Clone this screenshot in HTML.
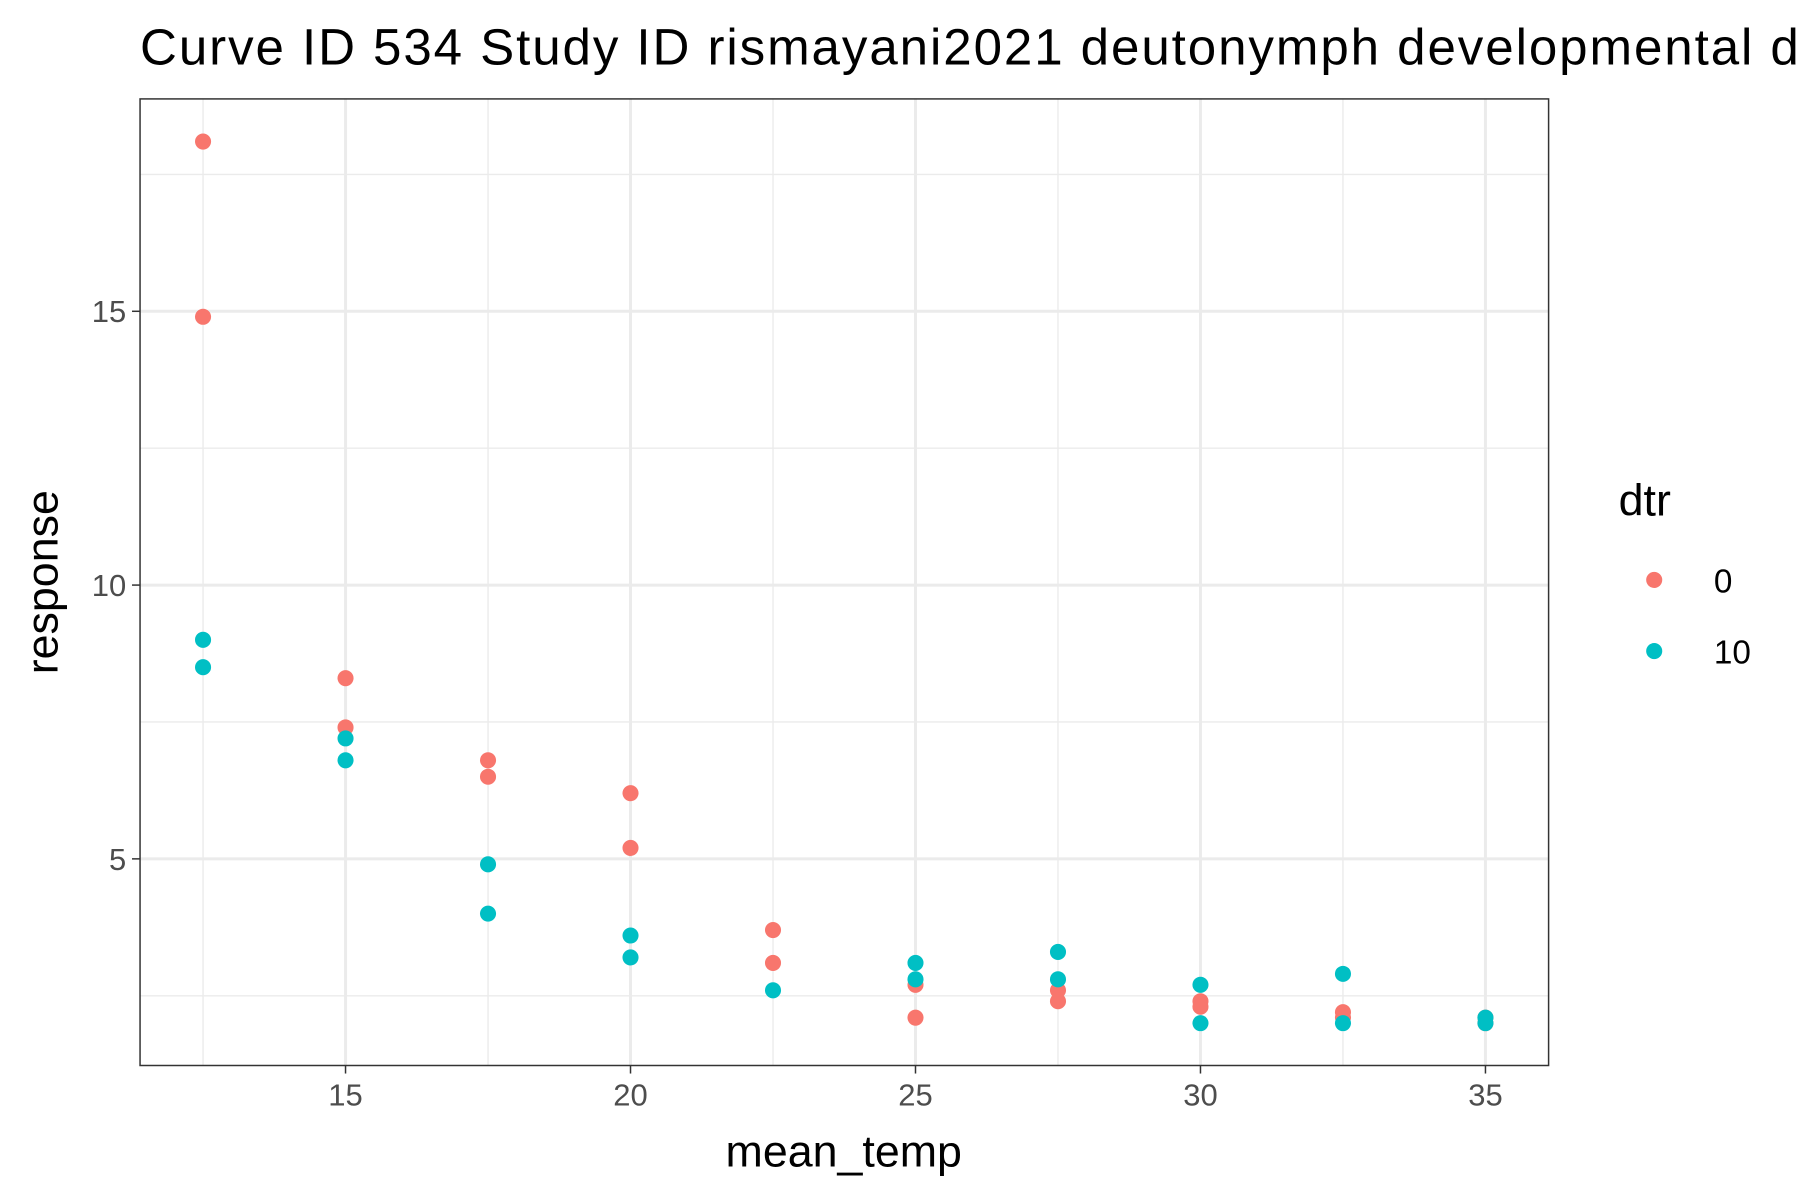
<!DOCTYPE html>
<html><head><meta charset="utf-8"><style>
html,body{margin:0;padding:0;background:#fff;}
svg{display:block;font-family:"Liberation Sans",Arial,sans-serif;}
</style></head><body>
<svg id="chart" width="1800" height="1200" viewBox="0 0 1568 1045" xmlns="http://www.w3.org/2000/svg">
<rect width="1568" height="1045" fill="#fff"/>
<text x="122" y="56" font-size="44.5" fill="#000" textLength="1445" lengthAdjust="spacing">Curve ID 534 Study ID rismayani2021 deutonymph developmental d</text>
<g id="grid"></g>
<g id="points"></g>
<rect x="122" y="86" width="1227" height="842" fill="none" stroke="#333" stroke-width="1.3"/>
<g id="ticks"></g>
<text x="735" y="1016" font-size="39" text-anchor="middle">mean_temp</text>
<text transform="translate(50,507) rotate(-90)" font-size="39" text-anchor="middle">response</text>
<g>
<text x="1410" y="449" font-size="39">dtr</text>
<circle cx="1441" cy="505" r="7" fill="#F8766D"/>
<text x="1493" y="516" font-size="29">0</text>
<circle cx="1441" cy="567" r="7" fill="#00BFC4"/>
<text x="1493" y="578" font-size="29">10</text>
</g>
</svg>
<script>
const xTicks=[15,20,25,30,35];
const yTicks=[5,10,15];
const xMinor=[12.5,17.5,22.5,27.5,32.5];
const yMinor=[2.5,7.5,12.5,17.5];
const temps0=[12.5,12.5,15,15,17.5,17.5,20,20,22.5,22.5,25,25,27.5,27.5,30,30,32.5,32.5,35,35];
const resp0=[18.1,14.9,8.3,7.4,6.8,6.5,6.2,5.2,3.7,3.1,2.7,2.1,2.6,2.4,2.4,2.3,2.2,2.1,2.0,2.1];
const temps10=[12.5,12.5,15,15,17.5,17.5,20,20,22.5,25,25,27.5,27.5,30,30,32.5,32.5,35,35];
const resp10=[9.0,8.5,7.2,6.8,4.9,4.0,3.6,3.2,2.6,3.1,2.8,3.3,2.8,2.7,2.0,2.9,2.0,2.1,2.0];
const NS='http://www.w3.org/2000/svg';
function xs(v){return 301+(v-15)*49.65;}
function ys(v){return 748-(v-5)*47.7;}
function mk(tag,attrs,parent){const e=document.createElementNS(NS,tag);for(const k in attrs)e.setAttribute(k,attrs[k]);parent.appendChild(e);return e;}
const grid=document.getElementById('grid'),pts=document.getElementById('points'),tk=document.getElementById('ticks');
mk('rect',{x:122,y:86,width:1227,height:842,fill:'#fff'},grid);
xMinor.forEach(v=>{const l=mk('line',{x1:xs(v),x2:xs(v),y1:86,y2:928,stroke:'#ebebeb','stroke-width':1.2},grid);

});
yMinor.forEach(v=>{const l=mk('line',{x1:122,x2:1349,y1:ys(v),y2:ys(v),stroke:'#ebebeb','stroke-width':1.2},grid);

});
xTicks.forEach(v=>{const l=mk('line',{x1:xs(v),x2:xs(v),y1:86,y2:928,stroke:'#ebebeb','stroke-width':2.6},grid);


mk('line',{x1:xs(v),x2:xs(v),y1:928,y2:935,stroke:'#333','stroke-width':1.3},tk);
const t=mk('text',{x:xs(v),y:963,'font-size':27,fill:'#4d4d4d','text-anchor':'middle'},tk);t.textContent=v;

});
yTicks.forEach(v=>{const l=mk('line',{x1:122,x2:1349,y1:ys(v),y2:ys(v),stroke:'#ebebeb','stroke-width':2.6},grid);


mk('line',{x1:115,x2:122,y1:ys(v),y2:ys(v),stroke:'#333','stroke-width':1.3},tk);
const t=mk('text',{x:110,y:ys(v)+9.5,'font-size':27,fill:'#4d4d4d','text-anchor':'end'},tk);t.textContent=v;

});
temps0.forEach((t,i)=>{const c=mk('circle',{cx:xs(t),cy:ys(resp0[i]),r:7,fill:'#F8766D'},pts);

});
temps10.forEach((t,i)=>{const c=mk('circle',{cx:xs(t),cy:ys(resp10[i]),r:7,fill:'#00BFC4'},pts);

});
</script>
</body></html>
